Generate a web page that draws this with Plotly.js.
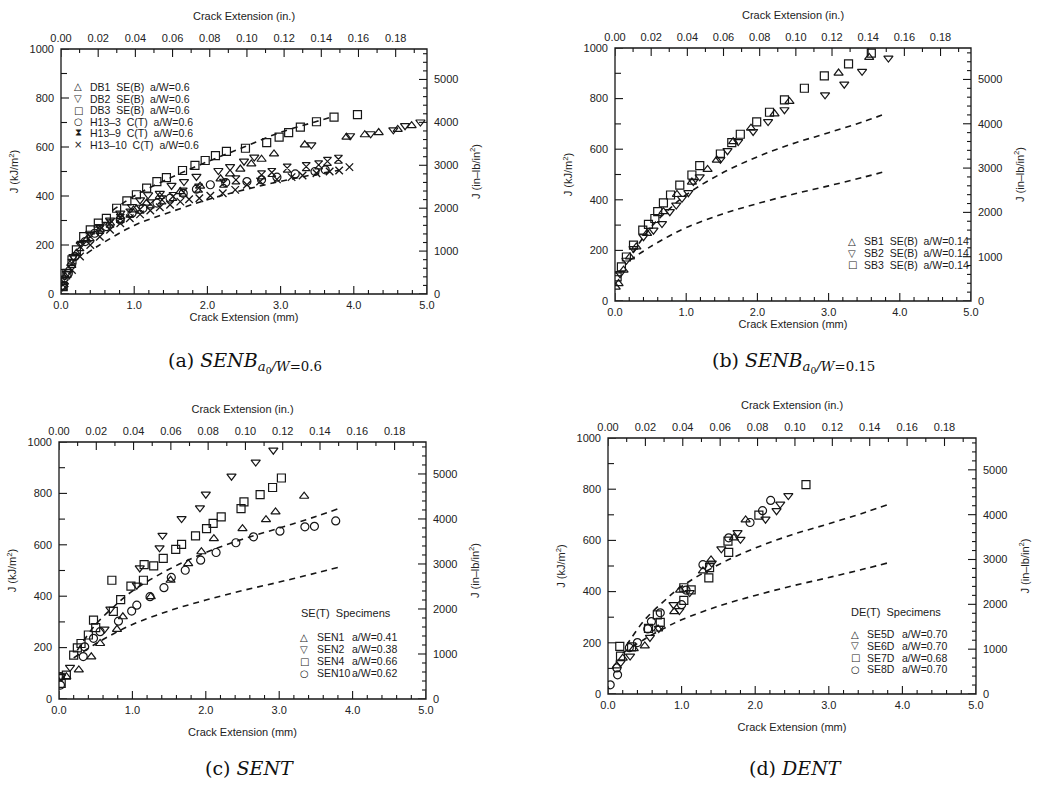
<!DOCTYPE html>
<html><head><meta charset="utf-8">
<script src="https://cdn.plot.ly/plotly-3.0.1.min.js"></script>
<style>html,body{margin:0;padding:0;background:#fff}#chart{width:1049px;height:788px}</style>
</head><body><div id="chart"></div>
<script>
// ---------- Panel (a): SENB a0/W = 0.6 ----------
const db1X = [0.02,0.06,0.10,0.14,0.21,0.35,0.53,0.67,0.81,0.99,1.17,1.35,1.63,1.90,2.18,2.31,2.45,2.60,2.74,2.91,3.33,3.90,4.15,4.34,4.60,4.79];
const db1J = [25,70,98,125,166,221,262,289,316,343,371,398,418,440,470,490,510,531,550,572,609,640,650,659,672,687];
const db2X = [0.02,0.08,0.17,0.28,0.40,0.53,0.67,0.81,0.97,1.08,1.19,1.35,1.51,1.68,1.85,2.15,2.31,2.50,2.64,3.42,3.95,4.23,4.54,4.70,4.91];
const db2J = [30,84,153,207,248,275,302,330,357,384,405,411,443,459,480,504,520,542,559,609,646,654,670,687,702];
const db3X = [0.03,0.08,0.15,0.21,0.31,0.40,0.51,0.62,0.76,0.90,1.03,1.17,1.31,1.44,1.66,1.83,1.97,2.11,2.26,2.52,2.81,2.98,3.11,3.27,3.49,3.73,4.05];
const db3J = [30,84,139,180,234,262,289,309,350,380,405,432,459,475,504,525,545,565,582,595,618,640,659,681,703,722,732];
const h133X = [0.03,0.10,0.19,0.33,0.46,0.62,0.81,0.97,1.12,1.31,1.49,1.67,1.85,2.04,2.25,2.54,2.74,2.95,3.20,3.47,3.61];
const h133J = [35,84,153,214,248,275,302,330,350,371,391,411,428,446,455,459,466,477,490,500,507];
const h139X = [0.05,0.15,0.26,0.40,0.53,0.67,0.81,0.94,1.08,1.22,1.38,1.53,1.67,1.88,2.22,2.39,2.74,2.88,3.09,3.35,3.52,3.64,3.79];
const h139J = [57,125,193,234,264,289,309,330,346,368,384,398,416,432,452,466,486,496,514,520,527,541,550];
const h1310X = [0.05,0.15,0.26,0.40,0.53,0.67,0.81,0.94,1.08,1.22,1.35,1.49,1.63,1.75,1.89,2.04,2.21,2.38,2.54,2.72,2.95,3.15,3.30,3.49,3.67,3.80,3.94];
const h1310J = [44,98,153,200,234,262,289,309,325,341,354,364,377,387,391,401,411,425,446,459,468,477,484,493,500,504,518];
const dashAUpX = [0.7,1.0,1.5,2.0,2.5,3.0,3.5,3.73];
const dashAUpJ = [340,400,475,540,600,660,705,725];
const dashALoX = [0.35,0.5,1.0,1.5,2.0,2.5,3.0,3.5,3.8];
const dashALoJ = [165,195,280,335,385,425,460,490,505];

// ---------- Panel (b): SENB a0/W = 0.15 ----------
const sb1X = [0.01,0.05,0.12,0.21,0.30,0.45,0.68,0.87,1.08,1.30,1.43,1.66,1.91,2.24,2.45,3.14,3.57];
const sb1J = [55,69,122,174,214,267,353,421,470,520,557,630,683,740,789,901,963];
const sb2X = [0.07,0.16,0.26,0.40,0.54,0.66,0.77,0.86,0.94,1.03,1.10,1.19,1.48,1.58,1.73,1.94,2.15,2.38,2.95,3.22,3.47,3.84];
const sb2J = [108,161,207,254,280,306,353,379,406,428,472,491,560,594,630,670,709,756,815,857,908,960];
const sb3X = [0.03,0.09,0.16,0.26,0.39,0.47,0.56,0.60,0.68,0.78,0.91,1.08,1.19,1.48,1.64,1.76,1.99,2.17,2.38,2.66,2.94,3.28,3.60];
const sb3J = [95,135,174,221,280,303,326,353,388,419,458,498,535,581,626,659,708,746,795,841,890,937,980];

// ---------- Shared reference curves (b, c, d) ----------
const dashUpX = [0.25,0.5,0.75,1.0,1.5,2.0,2.5,3.0,3.5,3.8];
const dashUpJ = [190,290,360,420,505,570,622,665,710,740];
const dashLoX = [0.2,0.5,0.75,1.0,1.5,2.0,2.5,3.0,3.5,3.8];
const dashLoJ = [160,215,255,290,343,385,422,455,490,512];

// ---------- Panel (c): SENT ----------
const sen1X = [0.10,0.27,0.44,0.56,0.79,0.87,1.25,1.52,1.76,1.94,2.11,2.50,2.82,2.95,3.34];
const sen1J = [87,113,164,216,271,320,398,462,527,573,624,663,698,728,789];
const sen2X = [0.03,0.15,0.62,0.70,1.06,1.10,1.37,1.41,1.67,1.92,2.00,2.35,2.68,2.92];
const sen2J = [87,123,272,350,443,510,588,637,702,744,797,867,922,968];
const sen4X = [0.03,0.10,0.20,0.25,0.30,0.40,0.47,0.50,0.72,0.74,0.84,0.98,1.15,1.16,1.29,1.42,1.59,1.67,1.86,2.01,2.10,2.21,2.48,2.52,2.74,2.91,3.03];
const sen4J = [61,93,171,199,216,249,307,278,462,341,387,439,462,523,518,547,582,602,635,663,683,709,741,767,795,823,860];
const sen10X = [0.02,0.02,0.33,0.35,0.47,0.56,0.81,0.99,1.06,1.24,1.43,1.53,1.72,1.93,2.14,2.41,2.65,3.01,3.35,3.48,3.77];
const sen10J = [54,87,165,203,236,262,303,342,365,398,433,473,501,540,570,608,631,653,670,672,693];

// ---------- Panel (d): DENT ----------
const se5dX = [0.12,0.20,0.35,0.50,0.68,0.90,0.98,1.29,1.40,1.71,1.87];
const se5dJ = [110,140,177,188,254,322,406,481,524,610,680];
const se6dX = [0.17,0.30,0.57,0.69,0.89,0.97,1.11,1.41,1.54,1.76,1.80,2.14,2.29,2.34,2.45];
const se6dJ = [122,148,221,256,349,326,396,511,567,630,604,683,716,742,775];
const se7dX = [0.16,0.17,0.32,0.55,0.67,0.71,1.03,1.03,1.13,1.37,1.38,1.63,1.64,2.05,2.69];
const se7dJ = [186,148,184,256,309,280,366,415,407,454,494,597,553,699,818];
const se8dX = [0.03,0.12,0.13,0.29,0.40,0.54,0.59,0.71,1.00,1.06,1.29,1.64,1.93,2.10,2.21];
const se8dJ = [36,102,75,181,201,254,283,317,349,406,505,610,670,716,756];

// ---------- Axis units and tick labels ----------
const mmRange = [0, 5];
const inRange = [0, 5 / 25.4];
const jRange = [0, 1000];
const jImpRange = [0, 5710];   // 1 kJ/m^2 = 5.71 in-lb/in^2
const mmTickLabels = ['0.0','1.0','2.0','3.0','4.0','5.0'];
const inTickLabels = ['0.00','0.02','0.04','0.06','0.08','0.10','0.12','0.14','0.16','0.18'];
const jTickLabels = ['0','200','400','600','800','1000'];
const jImpTickLabels = ['0','1000','2000','3000','4000','5000'];

// tick positions: labelled major ticks plus unlabelled minor ticks in between
function ticks(labels, majorStep, sub, maxVal) {
  const vals = [], text = [], major = [];
  const n = Math.floor(maxVal / (majorStep / sub) + 1e-6);
  for (let i = 0; i <= n; i++) {
    vals.push(+(i * majorStep / sub).toFixed(6));
    const isMajor = i % sub === 0;
    major.push(isMajor);
    text.push(isMajor && labels[i / sub] !== undefined ? labels[i / sub] : '');
  }
  return {vals, text, major};
}

// ---------- Drawing ----------
const W = 1049, H = 788;
const FONT = 'Liberation Sans, Arial, sans-serif';
const INK = '#161616';
const fx = v => v / W;
const fy = v => 1 - v / H;

const SYM = {tu:'triangle-up-open', td:'triangle-down-open', sq:'square-open', ci:'circle-open', hg:'hourglass-open', xx:'x-thin-open'};

const panels = [
  { box:[61,427,49,294], xStandoff:2,
    series:[[db1X,db1J,'tu'],[db2X,db2J,'td'],[db3X,db3J,'sq'],[h133X,h133J,'ci'],[h139X,h139J,'hg'],[h1310X,h1310J,'xx']],
    dashes:[[dashAUpX,dashAUpJ],[dashALoX,dashALoJ]],
    caption:{x:245,y:362,text:'(a) <i>SENB</i><sub><i>a</i><sub>0</sub><i>/W</i>=0.6</sub>'} },
  { box:[615,971,48,301], xStandoff:2,
    series:[[sb1X,sb1J,'tu'],[sb2X,sb2J,'td'],[sb3X,sb3J,'sq']],
    dashes:[[dashUpX,dashUpJ],[dashLoX,dashLoJ]],
    caption:{x:793,y:362,text:'(b) <i>SENB</i><sub><i>a</i><sub>0</sub><i>/W</i>=0.15</sub>'} },
  { box:[59,426,442,699], xStandoff:13,
    series:[[sen1X,sen1J,'tu'],[sen2X,sen2J,'td'],[sen4X,sen4J,'sq'],[sen10X,sen10J,'ci']],
    dashes:[[dashUpX,dashUpJ],[dashLoX,dashLoJ]],
    caption:{x:249,y:768,text:'(c) <i>SENT</i>'} },
  { box:[608,976,438,694], xStandoff:13,
    series:[[se5dX,se5dJ,'tu'],[se6dX,se6dJ,'td'],[se7dX,se7dJ,'sq'],[se8dX,se8dJ,'ci']],
    dashes:[[dashUpX,dashUpJ],[dashLoX,dashLoJ]],
    caption:{x:795,y:768,text:'(d) <i>DENT</i>'} }
];

const legendTexts = [
  {sym:78, txt:88, y0:87, dy:11.5, items:[['△','DB1  SE(B)  a/W=0.6'],['▽','DB2  SE(B)  a/W=0.6'],['□','DB3  SE(B)  a/W=0.6'],['○','H13–3  C(T)  a/W=0.6'],['⧗','H13–9  C(T)  a/W=0.6'],['×','H13–10  C(T)  a/W=0.6']]},
  {sym:852, txt:862, y0:241, dy:12, items:[['△','SB1  SE(B)  a/W=0.14'],['▽','SB2  SE(B)  a/W=0.14'],['□','SB3  SE(B)  a/W=0.14']]},
  {sym:304, txt:315, aw:350, y0:637, dy:12, title:{x:346,y:613,text:'SE(T)  Specimens'}, items:[['△','SEN1','a/W=0.41'],['▽','SEN2','a/W=0.38'],['□','SEN4','a/W=0.66'],['○','SEN10','a/W=0.62']]},
  {sym:855, txt:865, aw:900, y0:634, dy:11.8, title:{x:896,y:612,text:'DE(T)  Specimens'}, items:[['△','SE5D','a/W=0.70'],['▽','SE6D','a/W=0.70'],['□','SE7D','a/W=0.68'],['○','SE8D','a/W=0.70']]}
];

const traces = [];
const layout = {
  width:W, height:H, autosize:false,
  margin:{l:0,r:0,t:0,b:0,pad:0},
  paper_bgcolor:'#fff', plot_bgcolor:'#fff',
  showlegend:false,
  annotations:[], shapes:[]
};

const tickFont = {family:FONT, size:11, color:'#222'};
const titleFont = {family:FONT, size:11, color:'#222'};
const base = {showgrid:false, zeroline:false, showline:false, ticks:'', tickfont:tickFont, fixedrange:true, tickmode:'array'};
const tickLine = {color:INK, width:1.1};

panels.forEach((p, k) => {
  const nb = 2*k+1, nt = 2*k+2;
  const xb = 'x'+(nb===1?'':nb), xt = 'x'+nt, yl = 'y'+(nb===1?'':nb), yr = 'y'+nt;
  const kx = 'xaxis'+(nb===1?'':nb), kxt = 'xaxis'+nt, ky = 'yaxis'+(nb===1?'':nb), kyr = 'yaxis'+nt;
  const [x0,x1,y0,y1] = p.box;
  const pw = x1 - x0, ph = y1 - y0;
  const tb = ticks(mmTickLabels, 1, 5, 5), tt = ticks(inTickLabels, 0.02, 2, 0.19),
        tl = ticks(jTickLabels, 200, 2, 1000), tr = ticks(jImpTickLabels, 1000, 5, 5600);
  layout[kx] = Object.assign({}, base, {tickvals:tb.vals, ticktext:tb.text, domain:[fx(x0),fx(x1)], anchor:yl, range:mmRange,
    ticklabelstandoff:3, title:{text:'Crack Extension (mm)', font:titleFont, standoff:p.xStandoff}});
  layout[kxt] = Object.assign({}, base, {tickvals:tt.vals, ticktext:tt.text, overlaying:xb, side:'top', anchor:yl, range:inRange,
    ticklabelstandoff:4, title:{text:'Crack Extension (in.)', font:titleFont, standoff:8}});
  layout[ky] = Object.assign({}, base, {tickvals:tl.vals, ticktext:tl.text, domain:[fy(y1),fy(y0)], anchor:xb, range:jRange,
    ticklabelstandoff:6, title:{text:'J (kJ/m<sup>2</sup>)', font:titleFont, standoff:8}});
  layout[kyr] = Object.assign({}, base, {tickvals:tr.vals, ticktext:tr.text, overlaying:yl, side:'right', anchor:xb, range:jImpRange,
    ticklabelstandoff:6, title:{text:'J (in–lb/in<sup>2</sup>)', font:titleFont, standoff:14}});

  // frame and inward ticks, positioned through the axes' own scales
  layout.shapes.push({type:'rect', xref:xb+' domain', yref:yl+' domain', x0:0, x1:1, y0:0, y1:1, line:{color:INK, width:1.3}, layer:'above'});
  tb.vals.forEach((v, i) => layout.shapes.push({type:'line', xref:xb, yref:yl+' domain', x0:v, x1:v, y0:0, y1:(tb.major[i]?8:4)/ph, line:tickLine}));
  tt.vals.forEach((v, i) => layout.shapes.push({type:'line', xref:xt, yref:yl+' domain', x0:v, x1:v, y0:1, y1:1-(tt.major[i]?8:4)/ph, line:tickLine}));
  tl.vals.forEach((v, i) => layout.shapes.push({type:'line', xref:xb+' domain', yref:yl, x0:0, x1:(tl.major[i]?8:6)/pw, y0:v, y1:v, line:tickLine}));
  tr.vals.forEach((v, i) => layout.shapes.push({type:'line', xref:xb+' domain', yref:yr, x0:1, x1:1-(tr.major[i]?8:4)/pw, y0:v, y1:v, line:tickLine}));

  // invisible carriers so the top (inch) and right (in-lb/in^2) scales are drawn
  traces.push({type:'scatter', mode:'lines', x:inRange, y:jRange, xaxis:xt, yaxis:yl, opacity:0, line:{width:0}, hoverinfo:'skip'});
  traces.push({type:'scatter', mode:'lines', x:mmRange, y:jImpRange, xaxis:xb, yaxis:yr, opacity:0, line:{width:0}, hoverinfo:'skip'});

  p.dashes.forEach(d => traces.push({type:'scatter', mode:'lines', x:d[0], y:d[1], xaxis:xb, yaxis:yl,
    line:{color:INK, width:1.6, dash:'6px,5px', shape:'spline'}, hoverinfo:'skip'}));
  p.series.forEach(s => traces.push({type:'scatter', mode:'markers', x:s[0], y:s[1], xaxis:xb, yaxis:yl,
    marker:{symbol:SYM[s[2]], size:s[2]==='xx'?7.5:8, color:INK, line:{color:INK, width:s[2]==='xx'?1.3:1.2}}}));

  layout.annotations.push({xref:'paper', yref:'paper', x:fx(p.caption.x), y:fy(p.caption.y), xanchor:'center', yanchor:'middle',
    text:p.caption.text, showarrow:false, font:{family:'DejaVu Serif, serif', size:19, color:'#111'}});

  const L = legendTexts[k];
  const lf = {family:FONT, size:10.5, color:'#1a1a1a'};
  if (L.title) layout.annotations.push({xref:'paper', yref:'paper', x:fx(L.title.x), y:fy(L.title.y), xanchor:'center', yanchor:'middle', text:L.title.text, showarrow:false, font:{family:FONT, size:11, color:'#1a1a1a'}});
  L.items.forEach((it, i) => {
    const yy = fy(L.y0 + i*L.dy);
    layout.annotations.push({xref:'paper', yref:'paper', x:fx(L.sym), y:yy, xanchor:'center', yanchor:'middle', text:it[0], showarrow:false, font:{family:'DejaVu Sans, sans-serif', size:10, color:'#1a1a1a'}});
    layout.annotations.push({xref:'paper', yref:'paper', x:fx(L.txt), y:yy, xanchor:'left', yanchor:'middle', text:it[1], showarrow:false, font:lf});
    if (it[2]) layout.annotations.push({xref:'paper', yref:'paper', x:fx(L.aw), y:yy, xanchor:'left', yanchor:'middle', text:it[2], showarrow:false, font:lf});
  });
});

Plotly.newPlot('chart', traces, layout, {staticPlot:true, displayModeBar:false});
</script>
</body></html>
